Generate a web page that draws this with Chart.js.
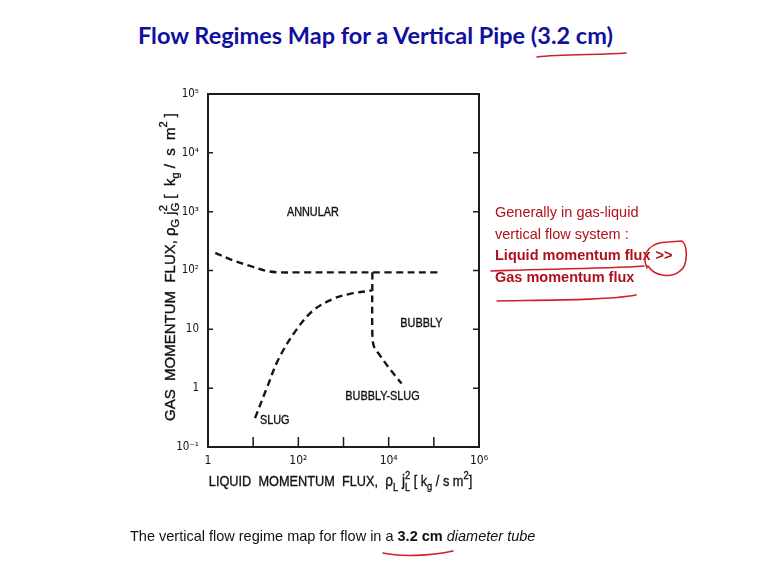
<!DOCTYPE html>
<html lang="en">
<head>
<meta charset="UTF-8">
<title>Flow Regimes Map for a Vertical Pipe (3.2 cm)</title>
<script src="https://cdn.jsdelivr.net/npm/chart.js"></script>
<style>
    html, body { margin: 0; padding: 0; background: #fff; }
    .slide { position: relative; width: 767px; height: 576px; overflow: hidden; background: #fff; font-family: "Liberation Sans", Arial, sans-serif; }
    .chart-box { position: absolute; left: 0; top: 0; width: 767px; height: 576px; }
    .slide-title { position: absolute; left: 138px; top: 20px; font-family: Lato, "Open Sans", sans-serif; font-weight: 700; font-size: 23.5px; line-height: 30px; color: #10109e; white-space: nowrap; }
    .side-note { position: absolute; left: 495px; top: 202px; font-size: 14.5px; line-height: 21.7px; color: #b0101c; white-space: nowrap; }
    .side-note .gt { margin-left: 5px; }
    .caption { position: absolute; left: 130px; top: 528px; font-size: 14.5px; line-height: 17px; color: #111; white-space: nowrap; }
    svg.ink { position: absolute; left: 0; top: 0; pointer-events: none; }
    svg.ink path { fill: none; stroke: #d0202c; stroke-width: 1.6; stroke-linecap: round; }
</style>
</head>
<body>
<div class="slide">
    <div class="slide-title">Flow Regimes Map for a Vertical Pipe (3.2 cm)</div>
    <div class="chart-box"><canvas id="regimeChart"></canvas></div>
    <div class="side-note">Generally in gas-liquid<br>vertical flow system :<br><b>Liquid momentum flux<span class="gt">&gt;&gt;</span></b><br><b>Gas momentum flux</b></div>
    <div class="caption">The vertical flow regime map for flow in a <b>3.2 cm</b> <i>diameter tube</i></div>
    <svg class="ink" width="767" height="576">
        <path d="M537 57 C 560 54, 600 55, 626 53"/>
        <path d="M491 271 C 540 269, 600 269, 644 266"/>
        <path d="M497 301 C 550 300, 610 300, 636 295"/>
        <path d="M647 268 C 640 252, 652 242, 668 242 L 682 241 C 688 246, 688 266, 680 271 C 672 278, 655 277, 648 266"/>
        <path d="M383 553 C 400 557, 430 556, 453 551"/>
    </svg>
</div>
<script>
// axis ticks (decades)
const liquidFluxTicks = [1, 10, 100, 1e3, 1e4, 1e5, 1e6];
const liquidFluxLabels = ['1', '', '10²', '', '10⁴', '', '10⁶'];
const gasFluxTicks = [0.1, 1, 10, 100, 1e3, 1e4, 1e5];
const gasFluxLabels = ['10⁻¹', '1', '10', '10²', '10³', '10⁴', '10⁵'];

// annular boundary (upper dashed line)
const annularX = [1.45, 3.6, 8.5, 20, 40, 100, 1000, 1e4, 1.3e5];
const annularY = [200, 148, 120, 98, 93, 93, 93, 93, 93];
// slug boundary
const slugX = [11, 20, 37, 92, 214, 590, 1390, 4350];
const slugY = [0.31, 1, 3.2, 10, 21, 33, 40, 46];
// bubbly / bubbly-slug boundary
const bubblyX = [4350, 4350, 4700, 6400, 10700, 19300];
const bubblyY = [93, 8.5, 5.2, 3.6, 2.1, 1.2];

// region names
const regionNames = ['ANNULAR', 'BUBBLY', 'BUBBLY-SLUG', 'SLUG'];
const regionX = [210, 5.3e4, 7300, 30];
const regionY = [1000, 13, 0.76, 0.29];

const FONT = '"Liberation Sans", Arial, sans-serif';
const NARROW = '"Liberation Sans Narrow", "Arial Narrow", "DejaVu Sans Condensed", "Liberation Sans", sans-serif';

function pts(xs, ys) { return xs.map((x, i) => ({ x: x, y: ys[i] })); }

function boundary(xs, ys) {
    return {
        data: pts(xs, ys), showLine: true, fill: false,
        borderColor: '#151515', borderWidth: 2.4, borderDash: [7, 4.5],
        pointRadius: 0, tension: 0.35
    };
}

// draws a row of text pieces (with sub/superscripts), centred on cx
function drawRuns(ctx, runs, cx, baseY, squeeze) {
    let w = 0;
    const placed = [];
    runs.forEach(r => {
        ctx.font = r.size + 'px ' + FONT;
        const rw = ctx.measureText(r.t).width;
        const x = r.stack ? placed[placed.length - 1].x : w;
        placed.push({ r: r, x: x });
        w = Math.max(w, x + rw);
    });
    ctx.save();
    ctx.translate(cx, baseY);
    ctx.scale(squeeze, 1);
    ctx.translate(-w / 2, 0);
    ctx.textBaseline = 'alphabetic';
    ctx.textAlign = 'left';
    ctx.lineWidth = 0.35;
    placed.forEach(p => {
        ctx.font = p.r.size + 'px ' + FONT;
        ctx.fillText(p.r.t, p.x, p.r.dy || 0);
        ctx.strokeText(p.r.t, p.x, p.r.dy || 0);
    });
    ctx.restore();
}

const yTitle = [
    { t: 'GAS  MOMENTUM  FLUX,', size: 15 },
    { t: ' ρ', size: 15 }, { t: 'G', size: 11, dy: 4 },
    { t: ' j', size: 15 }, { t: 'G', size: 11, dy: 4 }, { t: '2', size: 11, dy: -8, stack: true },
    { t: ' [  k', size: 15 }, { t: 'g', size: 11, dy: 4 },
    { t: ' /  s  m', size: 15 }, { t: '2', size: 11, dy: -8 }, { t: ' ]', size: 15 }
];
const xTitle = [
    { t: 'LIQUID  MOMENTUM  FLUX,  ', size: 15 },
    { t: 'ρ', size: 16 }, { t: 'L', size: 11, dy: 5 },
    { t: ' j', size: 16 }, { t: 'L', size: 11, dy: 5 }, { t: '2', size: 11, dy: -7, stack: true },
    { t: ' [ k', size: 15 }, { t: 'g', size: 11, dy: 4 },
    { t: ' / s m', size: 15 }, { t: '2', size: 11, dy: -7 }, { t: ']', size: 15 }
];

const mapDecor = {
    id: 'mapDecor',
    afterDatasetsDraw(chart) {
        const ctx = chart.ctx;
        const a = chart.chartArea;
        const xs = chart.scales.x, ys = chart.scales.y;
        ctx.save();
        ctx.strokeStyle = '#1c1c1c';
        ctx.lineWidth = 2;
        ctx.strokeRect(a.left, a.top, a.right - a.left, a.bottom - a.top);
        ctx.lineWidth = 1.5;
        ctx.beginPath();
        ys.ticks.forEach(t => {
            const py = ys.getPixelForValue(t.value);
            ctx.moveTo(a.left, py); ctx.lineTo(a.left + 5, py);
            ctx.moveTo(a.right, py); ctx.lineTo(a.right - 6, py);
        });
        xs.ticks.forEach(t => {
            const px = xs.getPixelForValue(t.value);
            ctx.moveTo(px, a.bottom); ctx.lineTo(px, a.bottom - 10);
        });
        ctx.stroke();

        ctx.fillStyle = '#111';
        ctx.strokeStyle = '#111';
        regionNames.forEach((name, i) => {
            const px = xs.getPixelForValue(regionX[i]);
            const py = ys.getPixelForValue(regionY[i]);
            drawRuns(ctx, [{ t: name, size: 12.5 }], px, py + 4.5, 0.87);
        });

        drawRuns(ctx, xTitle, (a.left + a.right) / 2 - 3, 486, 0.85);
        ctx.save();
        ctx.translate(175, 267);
        ctx.rotate(-Math.PI / 2);
        drawRuns(ctx, yTitle, 0, 0, 1);
        ctx.restore();
        ctx.restore();
    }
};

new Chart(document.getElementById('regimeChart'), {
    type: 'scatter',
    data: {
        datasets: [
            boundary(annularX, annularY),
            boundary(slugX, slugY),
            boundary(bubblyX, bubblyY)
        ]
    },
    options: {
        responsive: true,
        maintainAspectRatio: false,
        animation: false,
        layout: { padding: { left: 0, top: 94, right: 288, bottom: 99 } },
        plugins: { legend: { display: false }, tooltip: { enabled: false } },
        scales: {
            x: {
                type: 'logarithmic', min: 1, max: 1e6,
                afterBuildTicks: s => { s.ticks = liquidFluxTicks.map(v => ({ value: v })); },
                afterFit: s => { s.height = 30; },
                grid: { display: false, drawTicks: false },
                border: { display: false },
                ticks: {
                    padding: 7, autoSkip: false, maxRotation: 0, color: '#111',
                    font: { family: NARROW, size: 12 },
                    callback: (v, i) => liquidFluxLabels[i]
                }
            },
            y: {
                type: 'logarithmic', min: 0.1, max: 1e5,
                afterBuildTicks: s => { s.ticks = gasFluxTicks.map(v => ({ value: v })); },
                afterFit: s => { s.width = 208; },
                grid: { display: false, drawTicks: false },
                border: { display: false },
                ticks: {
                    padding: 9, autoSkip: false, color: '#111',
                    font: { family: NARROW, size: 11.5 },
                    callback: (v, i) => gasFluxLabels[i]
                }
            }
        }
    },
    plugins: [mapDecor]
});
</script>
</body>
</html>
